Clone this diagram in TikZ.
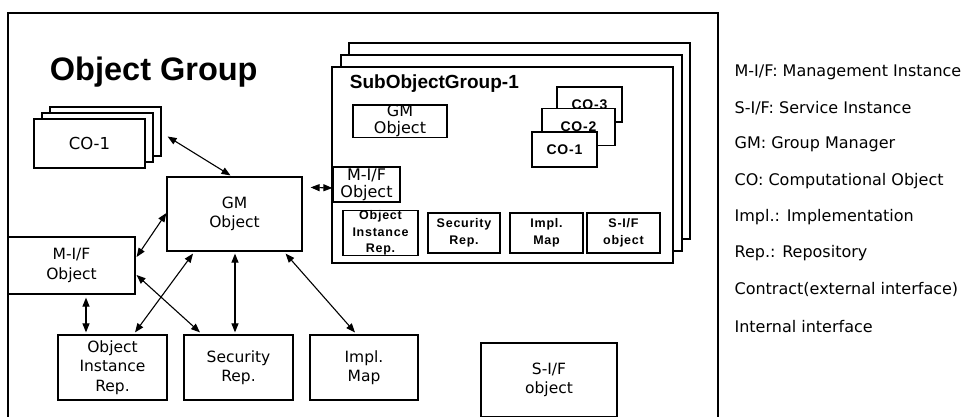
\documentclass[tikz,border=0pt]{standalone}
\usepackage{fontspec}
\setmainfont{DejaVu Sans}
\newfontfamily\headfont{Liberation Sans}
\newfontfamily\widefont{Liberation Sans}[LetterSpace=6]
\usetikzlibrary{arrows.meta,calc}

\newcommand\objfont{\fontsize{15.5}{19.5}\selectfont}
\newcommand\tinyfont{\widefont\bfseries\fontsize{12.5}{16.5}\selectfont}

\begin{document}
\begin{tikzpicture}[x=1pt, y=-1pt, line width=1.2pt, >={Triangle[length=9pt,width=7pt]},
  objbox/.style={draw, fill=white, inner sep=0pt, align=center, font=\objfont},
  subbox/.style={draw, fill=white, inner sep=0pt, align=center, font=\tinyfont},
  link/.style={<->, line width=1.1pt}]
  \useasboundingbox (0,0) rectangle (966,416);

  % Object group frame, open at the bottom.
  \draw (8,422) -- (8,13) -- (718,13) -- (718,422);
  \node[anchor=base west, font=\headfont\bfseries\fontsize{32.5}{36}\selectfont] (title) at (46,80) {Object Group};

  % Stacked computational objects.
  \node[objbox, minimum width=111pt, minimum height=49pt] (co1c) at ($(89.5,143.5)+(16,-12)$) {};
  \node[objbox, minimum width=111pt, minimum height=49pt] (co1b) at ($(89.5,143.5)+(8,-6)$) {};
  \node[objbox, minimum width=111pt, minimum height=49pt, font=\fontsize{16.5}{19}\selectfont] (co1a) at (89.5,143.5) {CO-1};

  % Group manager and the repositories round it.
  \node[objbox, minimum width=135pt, minimum height=74pt] (gm) at (234.5,214) {GM\\Object};
  \node[objbox, minimum width=127pt, minimum height=57pt] (mif) at (71.5,265.5) {M-I/F\\Object};
  \node[objbox, minimum width=109pt, minimum height=65pt] (oir) at (112.5,367.5) {Object\\Instance\\Rep.};
  \node[objbox, minimum width=109pt, minimum height=65pt] (sec) at (238.5,367.5) {Security\\Rep.};
  \node[objbox, minimum width=108pt, minimum height=65pt] (impl) at (364,367.5) {Impl.\\Map};
  \node[objbox, minimum width=136pt, minimum height=74pt] (sif) at (549,380) {S-I/F\\object};

  % Sub object groups, three deep.
  \node[draw, fill=white, minimum width=341pt, minimum height=196pt] (sog3) at ($(502.5,165)+(17,-24)$) {};
  \node[draw, fill=white, minimum width=341pt, minimum height=196pt] (sog2) at ($(502.5,165)+(9,-12)$) {};
  \node[draw, fill=white, minimum width=341pt, minimum height=196pt] (sog1) at (502.5,165) {};
  \node[anchor=base west, font=\headfont\bfseries\fontsize{19}{22}\selectfont] (subtitle) at (346,88) {SubObjectGroup-1};

  \node[objbox, minimum width=94pt, minimum height=32pt, font=\fontsize{16}{17}\selectfont] (sgm) at (400,121) {GM\\Object};
  \node[objbox, minimum width=67pt, minimum height=35pt, font=\fontsize{16}{17}\selectfont] (smif) at (366.5,184.5) {M-I/F\\Object};

  \node[subbox, minimum width=65pt, minimum height=35pt, font=\tinyfont\fontsize{14}{16}\selectfont] (sco3) at (589.5,104.5) {CO-3};
  \node[subbox, minimum width=73pt, minimum height=37pt, font=\tinyfont\fontsize{14}{16}\selectfont] (sco2) at (578.5,127) {CO-2};
  \node[subbox, minimum width=65pt, minimum height=35pt, font=\tinyfont\fontsize{14}{16}\selectfont] (sco1) at (564.5,149.5) {CO-1};

  \node[subbox, minimum width=75pt, minimum height=40pt] (soir) at (380.5,233) {Object\\Instance\\Rep.};
  \node[subbox, minimum width=72pt, minimum height=40pt] (ssec) at (464,233) {Security\\Rep.};
  \node[subbox, minimum width=73pt, minimum height=40pt] (simpl) at (546.5,233) {Impl.\\Map};
  \node[subbox, minimum width=73pt, minimum height=40pt] (ssif) at (623.5,233) {S-I/F\\object};

  % Interfaces between the objects.
  \draw[link] ($(co1c.east)+(6,5)$) -- ($(gm.north)+(-4,-1)$);
  \draw[link] ($(gm.north east)+(8,11)$) -- ($(smif.west)+(0,3.5)$);
  \draw[link] ($(mif.east)+(1,-8.5)$) -- ($(gm.west)+(0,-1)$);
  \draw[link] ($(mif.south)+(14.5,3)$) -- ($(oir.north)+(-26.5,-2)$);
  \draw[link] ($(oir.north)+(22.5,-2)$) -- ($(gm.south)+(-41.5,2)$);
  \draw[link] ($(mif.east)+(1,9.5)$) -- ($(sec.north)+(-38.5,-2)$);
  \draw[link] ($(gm.south)+(0.5,2)$) -- ($(sec.north)+(-3.5,-2)$);
  \draw[link] ($(gm.south east)+(-17,2)$) -- ($(impl.north)+(-9,-2)$);

  % Legend beside the frame.
  \foreach \txt [count=\i] in {M-I/F: Management Instance, S-I/F: Service Instance,
      GM: Group Manager, CO: Computational Object, Impl.: Implementation,
      Rep.: Repository, Contract(external interface), Internal interface}
    \node[anchor=west, inner sep=0pt, font=\fontsize{16}{19}\selectfont] (leg\i) at (734,{72+36.3*(\i-1)}) {\txt};
\end{tikzpicture}
\end{document}
